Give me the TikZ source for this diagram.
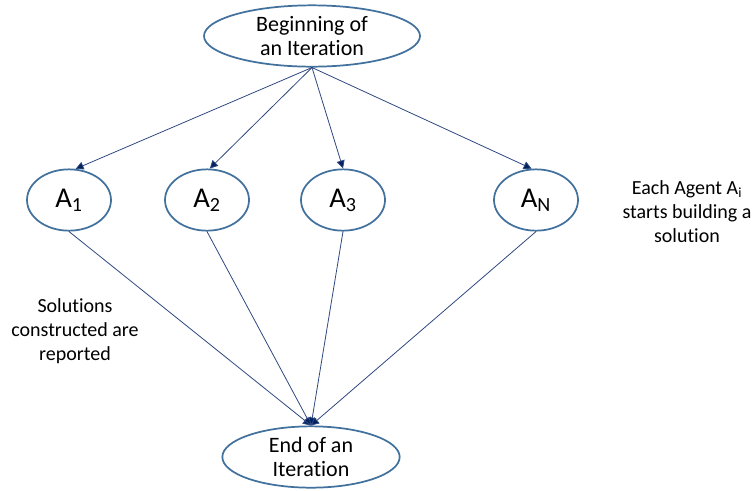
\documentclass[tikz,border=0pt]{standalone}
\usepackage{fontspec}
\setmainfont{Carlito}[Ligatures={NoCommon,NoContextual}]
\usetikzlibrary{arrows.meta,shapes.geometric}
\definecolor{rim}{RGB}{65,113,156}
\definecolor{wire}{RGB}{47,72,128}
\definecolor{tipc}{RGB}{0,32,96}
\tikzset{
  x=0.75pt, y=-0.75pt,
  oval/.style={ellipse, draw=rim, line width=1.3pt, fill=white, inner sep=0pt},
  event/.style={oval, minimum width=162pt, minimum height=46pt, font=\fontsize{16.5}{18}\selectfont, align=center},
  agent/.style={oval, minimum width=63pt, minimum height=46pt, font=\fontsize{21.5}{24}\selectfont},
  flow/.style={draw=wire, line width=0.6pt, -{Triangle[length=6pt,width=6pt,fill=tipc]}},
  note/.style={font=\fontsize{15}{18}\selectfont, align=center}
}
\begin{document}
\begin{tikzpicture}
\useasboundingbox (0,0) rectangle (755,490);
% start and end of an iteration
\node[event] (start) at (312,36) {Beginning of\\an Iteration};
\node[event, minimum width=133pt] (stop) at (311,457) {End of an\\Iteration};
% agents
\node[agent] (a1) at (69,200) {A\textsubscript{1}};
\node[agent] (a2) at (207,200) {A\textsubscript{2}};
\node[agent] (a3) at (343,200) {A\textsubscript{3}};
\node[agent] (an) at (536,200) {A\textsubscript{N}};
% side notes
\node[note] (build) at (687,212) {Each Agent A\textsubscript{i}\\starts building a\\solution};
\node[note] (report) at (75,331) {Solutions\\constructed are\\reported};
% dispatch to agents
\draw[flow] (start.south) -- (a1.78);
\draw[flow] (start.south) -- (a2.85);
\draw[flow] (start.south) -- (a3.90);
\draw[flow] (start.south) -- (an.98);
% solutions returned
\foreach \a in {a1,a2,a3,an}
  \draw[flow] (\a.south) -- (stop.north);
\end{tikzpicture}
\end{document}
